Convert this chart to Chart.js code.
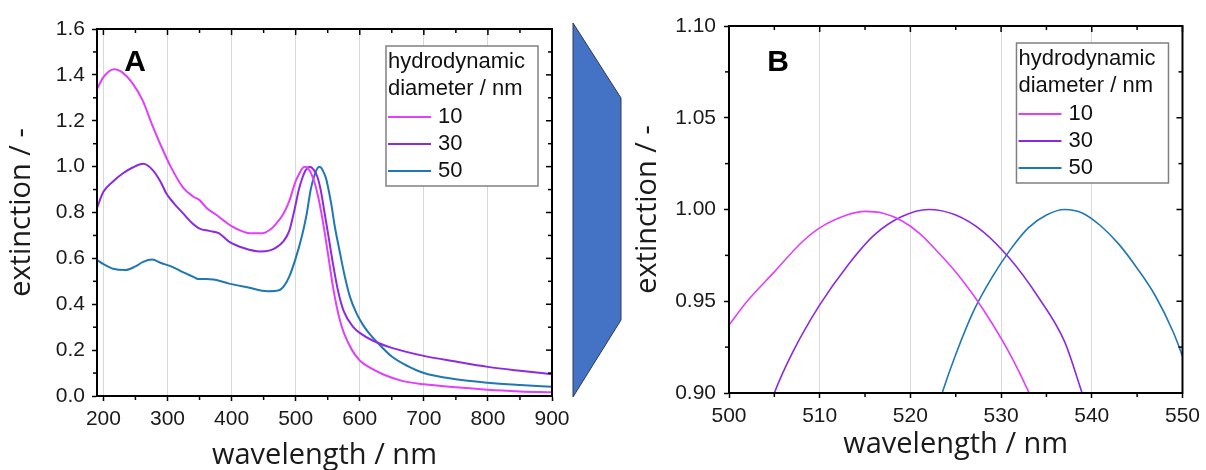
<!DOCTYPE html>
<html>
<head>
<meta charset="utf-8">
<script src="https://cdn.jsdelivr.net/npm/chart.js@4.4.1/dist/chart.umd.min.js"></script>
<style>
    html, body { margin: 0; padding: 0; background: #fff; }
    #wrap { position: relative; width: 1206px; height: 470px; overflow: hidden; }
    #arrow { position: absolute; left: 0; top: 0; }
    #panelA { position: absolute; left: 0; top: 0; }
    #panelB { position: absolute; left: 600px; top: 0; }
</style>
</head>
<body>
<div id="wrap">
    <svg id="arrow" width="1206" height="470">
        <polygon points="573,23 621,98 621,320 573,397" fill="#4472C4" stroke="#2E3B55" stroke-width="1"/>
    </svg>
    <canvas id="panelA" width="580" height="470"></canvas>
    <canvas id="panelB" width="606" height="470"></canvas>
</div>
<script>
// hydrodynamic diameters and line colours
const sizes = ['10', '30', '50']
const colors = ['#E040FB', '#8A2BE2', '#1F77B4']
const legendTitle = ['hydrodynamic', 'diameter / nm']

// panel A: full spectra
const wl10A = [190, 200, 210, 217, 230, 245, 261, 275, 290, 305, 324, 340, 350, 361, 376, 390, 402, 415, 428, 448, 460, 470, 480, 490, 500, 505, 510, 515, 520, 525, 530, 535, 540, 546, 552, 558, 564, 570, 576, 588, 600, 618, 636, 666, 700, 756, 800, 850, 900]
const ext10A = [1.338, 1.39, 1.418, 1.425, 1.41, 1.365, 1.29, 1.19, 1.09, 1.0, 0.91, 0.87, 0.854, 0.82, 0.79, 0.76, 0.737, 0.72, 0.71, 0.71, 0.725, 0.753, 0.79, 0.85, 0.937, 0.966, 0.991, 0.999, 0.99, 0.965, 0.925, 0.87, 0.80, 0.70, 0.59, 0.48, 0.39, 0.32, 0.27, 0.20, 0.155, 0.12, 0.095, 0.066, 0.051, 0.037, 0.027, 0.02, 0.016]

const wl30A = [190, 200, 215, 230, 245, 262, 277, 290, 298, 310, 324, 340, 350, 365, 380, 396, 420, 444, 460, 470, 480, 490, 498, 505, 510, 516, 522, 528, 534, 539, 545, 551, 558, 566, 575, 590, 600, 620, 650, 700, 750, 800, 850, 900]
const ext30A = [0.82, 0.89, 0.935, 0.97, 0.995, 1.012, 0.985, 0.93, 0.884, 0.84, 0.797, 0.75, 0.73, 0.72, 0.71, 0.673, 0.644, 0.63, 0.635, 0.648, 0.672, 0.72, 0.81, 0.90, 0.947, 0.986, 1.0, 0.987, 0.955, 0.899, 0.80, 0.70, 0.58, 0.46, 0.37, 0.30, 0.275, 0.242, 0.21, 0.175, 0.15, 0.127, 0.11, 0.095]

const wl50A = [190, 200, 215, 234, 250, 262, 276, 290, 310, 324, 340, 348, 360, 372, 396, 426, 456, 474, 482, 490, 500, 510, 517, 523.5, 527, 531, 534, 537, 540, 543, 547, 550, 556, 561, 568, 576, 585, 595, 605, 615, 628, 650, 675, 700, 750, 800, 850, 900]
const ext50A = [0.593, 0.575, 0.555, 0.549, 0.565, 0.585, 0.595, 0.58, 0.56, 0.54, 0.52, 0.51, 0.51, 0.508, 0.49, 0.473, 0.457, 0.461, 0.48, 0.52, 0.60, 0.70, 0.79, 0.90, 0.94, 0.975, 0.993, 1.0, 0.995, 0.979, 0.952, 0.918, 0.83, 0.74, 0.64, 0.53, 0.43, 0.36, 0.31, 0.272, 0.232, 0.172, 0.13, 0.10, 0.073, 0.058, 0.048, 0.04]

// panel B: zoom on the plasmon peaks
const wl10B = [500, 502, 505, 508, 510, 513, 515, 517, 519, 521, 523, 525, 527, 529, 531, 533, 535]
const ext10B = [0.937, 0.95, 0.966, 0.982, 0.99, 0.997, 0.999, 0.998, 0.994, 0.987, 0.977, 0.966, 0.953, 0.938, 0.921, 0.901, 0.878]

const wl30B = [503, 505, 507, 510, 513, 516, 519, 522, 525, 528, 531, 534, 537, 539, 541]
const ext30B = [0.87, 0.90, 0.922, 0.948, 0.969, 0.986, 0.996, 1.0, 0.997, 0.988, 0.973, 0.953, 0.928, 0.899, 0.87]

const wl50B = [522, 523.5, 525, 527, 529, 531, 533, 535, 537, 539, 541, 543, 545, 547, 549, 550, 551]
const ext50B = [0.875, 0.90, 0.921, 0.945, 0.963, 0.978, 0.99, 0.997, 1.0, 0.998, 0.991, 0.981, 0.968, 0.953, 0.933, 0.92, 0.905]

// axis ticks
const xTicksA = [200, 300, 400, 500, 600, 700, 800, 900]
const xMinorA = [250, 350, 450, 550, 650, 750, 850]
const yTicksA = [0, 0.2, 0.4, 0.6, 0.8, 1.0, 1.2, 1.4, 1.6]
const yMinorA = [0.1, 0.3, 0.5, 0.7, 0.9, 1.1, 1.3, 1.5]

const xTicksB = [500, 510, 520, 530, 540, 550]
const xMinorB = [505, 515, 525, 535, 545]
const yTicksB = [0.9, 0.95, 1.0, 1.05, 1.1]
const yMinorB = [0.925, 0.975, 1.025, 1.075]

const tickFont = { family: '"Liberation Sans", Arial, sans-serif', size: 21 }
const titleFont = { family: '"Open Sans", sans-serif', size: 29 }

const toPoints = (wl, ext) => wl.map((w, i) => ({ x: w, y: ext[i] }))

const makeDatasets = (series, width) => series.map((s, i) => ({
    label: sizes[i],
    data: toPoints(s[0], s[1]),
    borderColor: colors[i],
    borderWidth: width,
    pointRadius: 0,
    fill: false,
    cubicInterpolationMode: 'monotone'
}))

const line = (ctx, x1, y1, x2, y2) => {
    ctx.beginPath()
    ctx.moveTo(x1, y1)
    ctx.lineTo(x2, y2)
    ctx.stroke()
}

// frame, mirrored and minor ticks, legend box and panel letter
const framePlugin = {
    id: 'frame',
    afterDraw: (chart, args, opts) => {
        const { ctx, chartArea: a, scales: { x, y } } = chart
        ctx.save()
        ctx.strokeStyle = '#000'
        ctx.lineWidth = 1.5
        opts.xMajor.forEach(v => {
            const px = x.getPixelForValue(v)
            line(ctx, px, a.top, px, a.top + 6)
        })
        opts.xMinor.forEach(v => {
            const px = x.getPixelForValue(v)
            line(ctx, px, a.top, px, a.top + 4)
            line(ctx, px, a.bottom, px, a.bottom + 4)
        })
        opts.yMajor.forEach(v => {
            const py = y.getPixelForValue(v)
            line(ctx, a.right, py, a.right - 6, py)
        })
        opts.yMinor.forEach(v => {
            const py = y.getPixelForValue(v)
            line(ctx, a.right, py, a.right - 4, py)
            line(ctx, a.left, py, a.left - 4, py)
        })
        ctx.lineWidth = 2
        ctx.strokeRect(a.left, a.top, a.right - a.left, a.bottom - a.top)

        // legend
        const boxW = 152
        const boxH = 140
        const left = a.right - 14 - boxW
        const top = a.top + 17
        ctx.fillStyle = '#fff'
        ctx.fillRect(left, top, boxW, boxH)
        ctx.strokeStyle = '#808080'
        ctx.lineWidth = 1.5
        ctx.strokeRect(left, top, boxW, boxH)
        ctx.font = '22px "Liberation Sans", Arial, sans-serif'
        ctx.textBaseline = 'middle'
        ctx.textAlign = 'left'
        ctx.fillStyle = '#111'
        legendTitle.forEach((t, i) => ctx.fillText(t, left + 2, top + 16 + i * 27))
        chart.data.datasets.forEach((ds, i) => {
            const ly = top + 71 + i * 27
            ctx.strokeStyle = ds.borderColor
            ctx.lineWidth = 2
            line(ctx, left + 2, ly, left + 45, ly)
            ctx.fillStyle = '#111'
            ctx.fillText(ds.label, left + 52, ly)
        })

        // panel letter
        ctx.font = 'bold 30px "Liberation Sans", Arial, sans-serif'
        ctx.textAlign = 'center'
        ctx.fillStyle = '#000'
        ctx.fillText(opts.letter, a.left + opts.letterX, a.top + opts.letterY)
        ctx.restore()
    }
}

const makeChart = (id, p) => new Chart(document.getElementById(id), {
    type: 'line',
    data: { datasets: p.datasets },
    options: {
        responsive: false,
        animation: false,
        layout: { padding: { top: p.padTop, right: p.padRight, bottom: 0, left: 0 } },
        plugins: {
            legend: { display: false },
            tooltip: { enabled: false },
            frame: {
                xMajor: p.xTicks, xMinor: p.xMinor, yMajor: p.yTicks, yMinor: p.yMinor,
                letter: p.letter, letterX: p.letterX, letterY: p.letterY
            }
        },
        scales: {
            x: {
                type: 'linear',
                min: p.xMin,
                max: p.xMax,
                afterBuildTicks: (s) => { s.ticks = p.xTicks.map(v => ({ value: v })) },
                afterFit: (s) => { s.height = p.xHeight },
                grid: { color: '#d9d9d9', lineWidth: 1, tickColor: '#000', tickLength: 5, tickWidth: 1.5 },
                border: { color: '#000', width: 2 },
                ticks: { color: '#1a1a1a', font: tickFont, padding: 6, maxRotation: 0, callback: (v) => String(v) },
                title: { display: true, text: 'wavelength / nm', color: '#1a1a1a', font: titleFont, padding: { top: 0, bottom: p.xTitlePad } }
            },
            y: {
                type: 'linear',
                min: p.yMin,
                max: p.yMax,
                afterBuildTicks: (s) => { s.ticks = p.yTicks.map(v => ({ value: v })) },
                afterFit: (s) => { s.width = p.yWidth },
                grid: { drawOnChartArea: false, tickColor: '#000', tickLength: 5, tickWidth: 1.5 },
                border: { color: '#000', width: 2 },
                ticks: { color: '#1a1a1a', font: tickFont, padding: p.yPad, callback: (v) => v.toFixed(p.yDecimals) },
                title: { display: true, text: 'extinction / -', color: '#1a1a1a', font: titleFont, padding: { top: p.yTitlePad, bottom: 0 } }
            }
        }
    },
    plugins: [framePlugin]
})

makeChart('panelA', {
    datasets: makeDatasets([[wl10A, ext10A], [wl30A, ext30A], [wl50A, ext50A]], 2),
    xMin: 190, xMax: 900, xTicks: xTicksA, xMinor: xMinorA,
    yMin: 0, yMax: 1.6, yTicks: yTicksA, yMinor: yMinorA, yDecimals: 1,
    padTop: 29, padRight: 28, xHeight: 74, yWidth: 97, yPad: 7,
    xTitlePad: -3, yTitlePad: 4,
    letter: 'A', letterX: 38, letterY: 34
})

makeChart('panelB', {
    datasets: makeDatasets([[wl10B, ext10B], [wl30B, ext30B], [wl50B, ext50B]], 1.6),
    xMin: 500, xMax: 550, xTicks: xTicksB, xMinor: xMinorB,
    yMin: 0.9, yMax: 1.1, yTicks: yTicksB, yMinor: yMinorB, yDecimals: 2,
    padTop: 26, padRight: 21, xHeight: 77, yWidth: 129, yPad: 8,
    xTitlePad: 8, yTitlePad: 30,
    letter: 'B', letterX: 49, letterY: 37
})
</script>
</body>
</html>
